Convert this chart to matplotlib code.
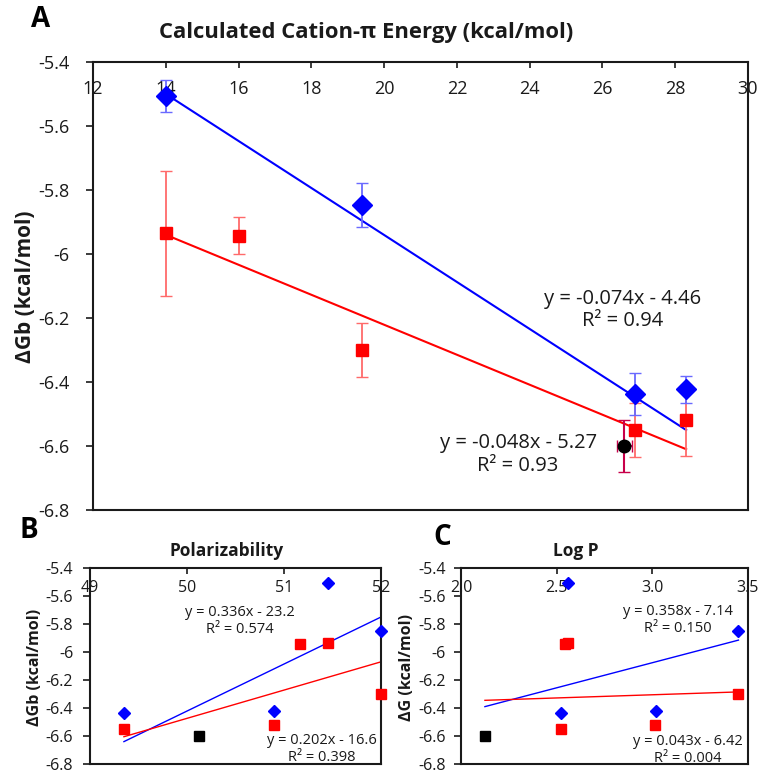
import matplotlib
matplotlib.use('Agg')
from matplotlib import pyplot as plt

plt.rcParams['font.family'] = ['Open Sans', 'DejaVu Sans']

# shared binding energies (kcal/mol)
blue_dg = [-5.505, -5.847, -6.438, -6.423]
blue_err = [0.05, 0.07, 0.065, 0.042]
red_dg = [-5.935, -5.943, -6.30, -6.55, -6.52]
red_err = [0.195, 0.058, 0.083, 0.083, 0.11]
black_dg = [-6.60]
black_err = [0.08]

# panel A: cation-pi energy
blue_cation = [14.0, 19.4, 26.9, 28.3]
red_cation = [14.0, 16.0, 19.4, 26.9, 28.3]
black_cation = [26.6]
fit_x_a = [14.0, 28.3]
blue_fit_a = [-5.50, -6.55]
red_fit_a = [-5.94, -6.61]

# panel B: polarizability
blue_polar = [51.45, 52.0, 49.35, 50.9]
red_polar = [51.45, 51.17, 52.0, 49.35, 50.9]
black_polar = [50.12]
fit_x_b = [49.35, 52.0]
blue_fit_b = [-6.64, -5.75]
red_fit_b = [-6.605, -6.07]

# panel C: log P
blue_logp = [2.56, 3.45, 2.52, 3.02]
red_logp = [2.56, 2.545, 3.45, 2.52, 3.015]
black_logp = [2.125]
fit_x_c = [2.125, 3.45]
blue_fit_c = [-6.39, -5.915]
red_fit_c = [-6.345, -6.285]

y_ticks = [-5.4, -5.6, -5.8, -6.0, -6.2, -6.4, -6.6, -6.8]
y_labels = ['-5.4', '-5.6', '-5.8', '-6', '-6.2', '-6.4', '-6.6', '-6.8']
xt_a = [12, 14, 16, 18, 20, 22, 24, 26, 28, 30]
xt_b = [49, 50, 51, 52]
xt_c = [2.0, 2.5, 3.0, 3.5]
xl_c = ['2.0', '2.5', '3.0', '3.5']

BLUE = '#0000ff'
RED = '#ff0000'
INK = '#1a1a1a'


def style_axes(ax, xticks, xlabels, xlim, fs, pad, ypad):
    ax.set_xlim(*xlim)
    ax.set_ylim(-6.8, -5.4)
    ax.set_xticks(xticks)
    ax.set_xticklabels(xlabels)
    ax.set_yticks(y_ticks)
    ax.set_yticklabels(y_labels)
    ax.tick_params(axis='x', top=True, bottom=False, labeltop=True, labelbottom=False,
                   direction='in', length=4, width=1.2, pad=pad, labelsize=fs, colors=INK)
    ax.tick_params(axis='y', direction='out', length=5, width=1.2, pad=ypad,
                   labelsize=fs, colors=INK)
    for s in ax.spines.values():
        s.set_linewidth(1.5)
        s.set_color(INK)


fig = plt.figure(figsize=(7.6, 7.74), dpi=100)

# ---- panel A
axA = fig.add_axes([0.1224, 0.3411, 0.8618, 0.5788])
axA.plot(fit_x_a, blue_fit_a, color=BLUE, lw=1.5, zorder=2)
axA.plot(fit_x_a, red_fit_a, color=RED, lw=1.5, zorder=2)
axA.errorbar(blue_cation, blue_dg, yerr=blue_err, fmt='D', ms=10, color=BLUE,
             ecolor='#6a6aff', elinewidth=1.3, capsize=4, zorder=4)
axA.errorbar(red_cation, red_dg, yerr=red_err, fmt='s', ms=9, color=RED,
             ecolor='#ff6a6a', elinewidth=1.3, capsize=4, zorder=3)
axA.errorbar(black_cation, black_dg, yerr=black_err, xerr=[0.2], fmt='o', ms=9, color='black',
             ecolor='#c8004a', elinewidth=1.5, capsize=4, zorder=3)
style_axes(axA, xt_a, [str(v) for v in xt_a], (12, 30), 13, -26, 12)
axA.text(0.809, 0.446, 'y = -0.074x - 4.46\nR² = 0.94', transform=axA.transAxes,
         ha='center', va='center', fontsize=14.5, color=INK, linespacing=1.15)
axA.text(0.649, 0.124, 'y = -0.048x - 5.27\nR² = 0.93', transform=axA.transAxes,
         ha='center', va='center', fontsize=14.5, color=INK, linespacing=1.15)
fig.text(0.053, 0.975, 'A', fontsize=20, fontweight='bold', ha='center', va='center')
fig.text(0.482, 0.958, 'Calculated Cation-π Energy (kcal/mol)', fontsize=15.8,
         fontweight='bold', ha='center', va='center', color=INK)
fig.text(0.034, 0.629, 'ΔGb (kcal/mol)', rotation=90, fontsize=15, fontweight='bold',
         ha='center', va='center', color=INK)

# ---- panel B
axB = fig.add_axes([0.1184, 0.0129, 0.3829, 0.2532])
axB.plot(fit_x_b, blue_fit_b, color=BLUE, lw=1.0, zorder=2)
axB.plot(fit_x_b, red_fit_b, color=RED, lw=1.0, zorder=2)
axB.plot(blue_polar, blue_dg, 'D', ms=6, color=BLUE, zorder=3, clip_on=False)
axB.plot(red_polar, red_dg, 's', ms=7, color=RED, zorder=3, clip_on=False)
axB.plot(black_polar, black_dg, 's', ms=7, color='black', zorder=3)
style_axes(axB, xt_b, [str(v) for v in xt_b], (49, 52), 11.5, -20, 7)
axB.text(0.515, 0.73, 'y = 0.336x - 23.2\nR² = 0.574', transform=axB.transAxes,
         ha='center', va='center', fontsize=10.5, color=INK, linespacing=1.15)
axB.text(0.797, 0.077, 'y = 0.202x - 16.6\nR² = 0.398', transform=axB.transAxes,
         ha='center', va='center', fontsize=10.5, color=INK, linespacing=1.15)
axB.set_title('Polarizability', fontsize=12.5, fontweight='bold', pad=9, color=INK, x=0.47)
fig.text(0.038, 0.315, 'B', fontsize=20, fontweight='bold', ha='center', va='center')
fig.text(0.046, 0.138, 'ΔGb (kcal/mol)', rotation=90, fontsize=11.5, fontweight='bold',
         ha='center', va='center', color=INK)

# ---- panel C
axC = fig.add_axes([0.6066, 0.0129, 0.3776, 0.2532])
axC.plot(fit_x_c, blue_fit_c, color=BLUE, lw=1.0, zorder=2)
axC.plot(fit_x_c, red_fit_c, color=RED, lw=1.0, zorder=2)
axC.plot(blue_logp, blue_dg, 'D', ms=6, color=BLUE, zorder=3)
axC.plot(red_logp, red_dg, 's', ms=7, color=RED, zorder=3)
axC.plot(black_logp, black_dg, 's', ms=7, color='black', zorder=3)
style_axes(axC, xt_c, xl_c, (2.0, 3.5), 11.5, -20, 6)
axC.text(0.756, 0.735, 'y = 0.358x - 7.14\nR² = 0.150', transform=axC.transAxes,
         ha='center', va='center', fontsize=10.5, color=INK, linespacing=1.15)
axC.text(0.791, 0.071, 'y = 0.043x - 6.42\nR² = 0.004', transform=axC.transAxes,
         ha='center', va='center', fontsize=10.5, color=INK, linespacing=1.15)
axC.set_title('Log P', fontsize=12.5, fontweight='bold', pad=9, color=INK, x=0.4)
fig.text(0.582, 0.306, 'C', fontsize=20, fontweight='bold', ha='center', va='center')
fig.text(0.536, 0.138, 'ΔG (kcal/mol)', rotation=90, fontsize=11.5, fontweight='bold',
         ha='center', va='center', color=INK)

fig.savefig('out.png', dpi=100)
